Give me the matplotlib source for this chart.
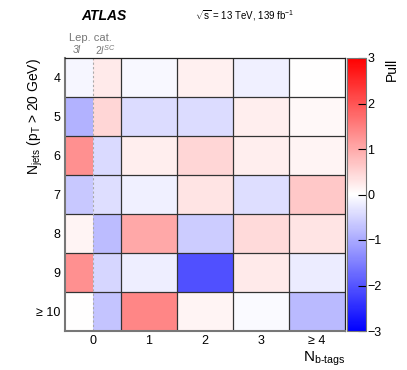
import numpy as np
import matplotlib
matplotlib.use('Agg')
from matplotlib import pyplot as plt
from matplotlib.colors import LinearSegmentedColormap

plt.rcParams['font.family'] = ['Liberation Sans', 'DejaVu Sans']
plt.rcParams['mathtext.fontset'] = 'custom'
plt.rcParams['mathtext.rm'] = 'Liberation Sans'
plt.rcParams['mathtext.it'] = 'Liberation Sans:italic'
plt.rcParams['mathtext.bf'] = 'Liberation Sans:bold'
plt.rcParams['mathtext.default'] = 'regular'

# rows: N_jets, columns: 3l, 2lSC (both 0 b-tags), 1, 2, 3, >=4 b-tags
row_labels = ['4', '5', '6', '7', '8', '9', '≥ 10']
col_labels = ['0', '1', '2', '3', '≥ 4']
x_edges = [-0.5, 0.0, 0.5, 1.5, 2.5, 3.5, 4.5]

pull_4 = [-0.10, 0.25, -0.08, 0.18, -0.18, 0.00]
pull_5 = [-0.90, 0.47, -0.40, -0.40, 0.20, 0.08]
pull_6 = [1.30, -0.43, 0.20, 0.47, 0.20, 0.12]
pull_7 = [-0.65, -0.39, -0.18, 0.32, -0.39, 0.65]
pull_8 = [0.12, -0.79, 1.02, -0.59, 0.44, 0.32]
pull_9 = [1.30, -0.47, -0.20, -2.06, 0.24, -0.22]
pull_10 = [0.00, -0.70, 1.41, 0.12, -0.06, -0.82]

pulls = np.array([pull_4, pull_5, pull_6, pull_7, pull_8, pull_9, pull_10])

cmap = LinearSegmentedColormap.from_list('bwr_root', [(0, 0, 1), (1, 1, 1), (1, 0, 0)])

fig = plt.figure(figsize=(4.07, 3.70), dpi=100)
ax = fig.add_axes([65/407, 1-331/370, 280/407, 273/370])
cax = fig.add_axes([347/407, 1-331/370, 19/407, 273/370])

y_edges = np.arange(len(row_labels)+1) - 0.5
mesh = ax.pcolormesh(x_edges, y_edges, pulls, cmap=cmap, vmin=-3, vmax=3)
ax.set_xlim(x_edges[0], x_edges[-1])
ax.set_ylim(y_edges[-1], y_edges[0])

for yy in y_edges[1:-1]:
    ax.axhline(yy, color='#333333', lw=0.9)
for xx in x_edges[2:-1]:
    ax.axvline(xx, color='#333333', lw=0.9)
ax.axvline(x_edges[1], color='#aaaaaa', lw=0.8, ls=(0, (2, 2)))

for s in ['top', 'right']:
    ax.spines[s].set_color('#222222')
    ax.spines[s].set_linewidth(0.9)
for s in ['left', 'bottom']:
    ax.spines[s].set_color('#777777')
    ax.spines[s].set_linewidth(1.5)

ax.set_xticks(range(len(col_labels)))
ax.set_xticklabels(col_labels, fontsize=9)
ax.set_yticks(range(len(row_labels)))
ax.set_yticklabels(row_labels, fontsize=9)
ax.tick_params(length=0, pad=3)

ax.set_ylabel(r'N$_{jets}$ (p$_{T}$ > 20 GeV)', fontsize=10, ha='right')
ax.yaxis.set_label_coords(-0.072, 1.0)
ax.set_xlabel(r'N$_{\text{b-tags}}$', fontsize=11, x=1.0, ha='right', labelpad=2)

cb = fig.colorbar(mesh, cax=cax)
cb.set_ticks([-3, -2, -1, 0, 1, 2, 3])
cb.ax.tick_params(direction='in', length=6, width=0.8, labelsize=9, pad=1)
cb.ax.set_yticklabels(['−3', '−2', '−1', '0', '1', '2', '3'])
cb.outline.set_edgecolor('#777777')
fig.text(392/407, 1-58/370, 'Pull', rotation=90, fontsize=10, ha='center', va='top')

fig.text(104/407, 1-16/370, 'ATLAS', fontsize=10, fontweight='bold', style='italic', ha='center', va='center')
fig.text(245/407, 1-16/370, r'$\sqrt{s}$ = 13 TeV, 139 fb$^{-1}$', fontsize=7, ha='center', va='center')
fig.text(90/407, 1-38/370, 'Lep. cat.', fontsize=8, color='#777777', ha='center', va='center')
fig.text(77/407, 1-50/370, '3l', fontsize=7.5, color='#777777', style='italic', ha='center', va='center')
fig.text(105/407, 1-50/370, r'$\it{2l}^{\it{SC}}$', fontsize=7.5, color='#777777', ha='center', va='center')

fig.savefig('out.png', dpi=100)
